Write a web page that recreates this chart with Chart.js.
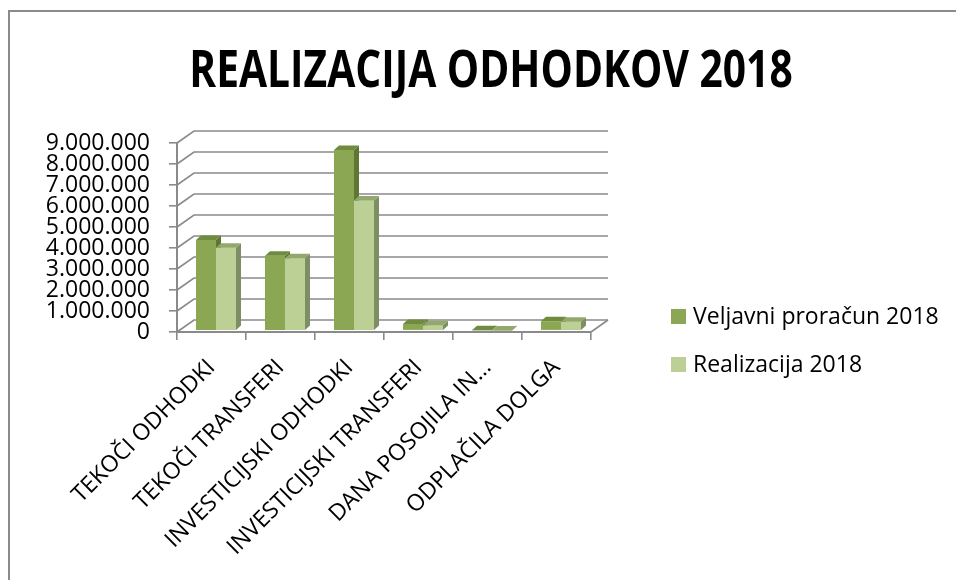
<!DOCTYPE html>
<html>
<head>
<meta charset="utf-8">
<script src="https://cdn.jsdelivr.net/npm/chart.js@4/dist/chart.umd.min.js"></script>
<style>
  html, body { margin: 0; padding: 0; background: #fff; }
  #wrap { position: relative; width: 956px; height: 580px; overflow: hidden; }
  #frame { position: absolute; left: 8px; top: 10px; width: 1000px; height: 1000px;
    border-left: 2px solid #8a8a8a; border-top: 2px solid #8a8a8a; }
  #chart { position: absolute; left: 0; top: 0; }
  #title { position: absolute; left: 0; width: 982px; top: 41px; text-align: center;
    font: bold 52px "Open Sans", sans-serif; line-height: 52px; color: #000;
    transform: scaleX(0.783); transform-origin: 491px 0; white-space: nowrap; }
  .leg { position: absolute; left: 671px; font: 23px "Open Sans", sans-serif; line-height: 23px; color: #000; white-space: nowrap; }
  .leg span { position: absolute; left: 0; width: 15px; height: 15px; }
  .leg div { position: absolute; left: 22px; top: 0; }
</style>
</head>
<body>
<div id="wrap">
  <div id="frame"></div>
  <canvas id="chart" width="956" height="580"></canvas>
  <div id="title">REALIZACIJA ODHODKOV 2018</div>
  <div class="leg" style="top:304px"><span style="top:5px;background:#8ba753"></span><div>Veljavni proračun 2018</div></div>
  <div class="leg" style="top:352px"><span style="top:5px;background:#bccf95"></span><div>Realizacija 2018</div></div>
</div>
<script>
// data
const categories = [
  "TEKOČI ODHODKI",
  "TEKOČI TRANSFERI",
  "INVESTICIJSKI ODHODKI",
  "INVESTICIJSKI TRANSFERI",
  "DANA POSOJILA IN…",
  "ODPLAČILA DOLGA",
];
const veljavni = [4320000, 3570000, 8600000, 320000, 20000, 450000];
const realizacija = [3950000, 3450000, 6200000, 260000, 10000, 430000];
const yTicks = [0, 1000000, 2000000, 3000000, 4000000, 5000000, 6000000, 7000000, 8000000, 9000000];

const GRID = "#8a8a8a";
const FONT = "'Open Sans', sans-serif";

// fake 3d look: back wall offset and bar depth
const wallDx = 17, wallDy = -12;
const barShiftX = 4.5, barShiftY = -1.3;
const depthX = 5, depthY = -4.5;
const faceColors = [
  { top: "#6f8b3e", side: "#5f7635" },
  { top: "#93a86c", side: "#7d8e64" },
];

function fmt(v) {
  return String(v).replace(/\B(?=(\d{3})+(?!\d))/g, ".");
}

const pseudo3d = {
  id: "pseudo3d",
  beforeDatasetsDraw(chart) {
    const { ctx, chartArea } = chart;
    const y = chart.scales.y;
    const { left, right } = chartArea;
    ctx.save();
    ctx.strokeStyle = GRID;
    ctx.lineWidth = 1.6;
    yTicks.forEach((v) => {
      const py = y.getPixelForValue(v);
      ctx.beginPath();
      ctx.moveTo(left, py);
      ctx.lineTo(left + wallDx, py + wallDy);
      ctx.lineTo(right + wallDx, py + wallDy);
      ctx.stroke();
    });
    // floor right edge
    const p0 = y.getPixelForValue(0);
    ctx.beginPath();
    ctx.moveTo(right, p0);
    ctx.lineTo(right + wallDx, p0 + wallDy);
    ctx.stroke();
    ctx.restore();

    ctx.save();
    ctx.translate(barShiftX, barShiftY);
  },
  afterDatasetsDraw(chart) {
    const { ctx } = chart;
    const metas = [chart.getDatasetMeta(0), chart.getDatasetMeta(1)];
    const faces = (bar, c) => {
      const { x, y, base, width } = bar.getProps(["x", "y", "base", "width"], true);
      const l = x - width / 2, r = x + width / 2;
      ctx.fillStyle = c.side;
      ctx.beginPath();
      ctx.moveTo(r, y);
      ctx.lineTo(r + depthX, y + depthY);
      ctx.lineTo(r + depthX, base + depthY);
      ctx.lineTo(r, base);
      ctx.closePath();
      ctx.fill();
      ctx.fillStyle = c.top;
      ctx.beginPath();
      ctx.moveTo(l, y);
      ctx.lineTo(l + depthX, y + depthY);
      ctx.lineTo(r + depthX, y + depthY);
      ctx.lineTo(r, y);
      ctx.closePath();
      ctx.fill();
    };
    categories.forEach((c, i) => {
      faces(metas[0].data[i], faceColors[0]);
      metas[1].data[i].draw(ctx);
      faces(metas[1].data[i], faceColors[1]);
    });
    ctx.restore();
  },
};

Chart.defaults.font.family = FONT;

new Chart(document.getElementById("chart"), {
  type: "bar",
  data: {
    labels: categories,
    datasets: [
      { label: "Veljavni proračun 2018", data: veljavni, backgroundColor: "#8ba753", clip: false },
      { label: "Realizacija 2018", data: realizacija, backgroundColor: "#bccf95", clip: false },
    ],
  },
  options: {
    responsive: false,
    animation: false,
    devicePixelRatio: 1,
    categoryPercentage: 0.58,
    barPercentage: 1,
    layout: { padding: { left: 0, right: 365, top: 143, bottom: 0 } },
    plugins: {
      legend: { display: false },
      title: { display: false },
      tooltip: { enabled: false },
    },
    scales: {
      x: {
        afterFit: (s) => { s.height = 248; },
        grid: { drawOnChartArea: false, drawTicks: true, tickLength: 8, color: GRID, lineWidth: 1.6, offset: true },
        border: { display: true, color: GRID, width: 2 },
        ticks: {
          color: "#000",
          font: { size: 23 },
          minRotation: 45,
          maxRotation: 45,
          autoSkip: false,
          padding: 14,
        },
      },
      y: {
        min: 0,
        max: 9000000,
        afterFit: (s) => { s.width = 177; },
        grid: { drawOnChartArea: false, drawTicks: true, tickLength: 8, color: GRID, lineWidth: 1.6 },
        border: { display: true, color: GRID, width: 2 },
        ticks: {
          stepSize: 1000000,
          autoSkip: false,
          color: "#000",
          font: { size: 23 },
          padding: 19,
          callback: (v) => fmt(v),
        },
      },
    },
  },
  plugins: [pseudo3d],
});
</script>
</body>
</html>
